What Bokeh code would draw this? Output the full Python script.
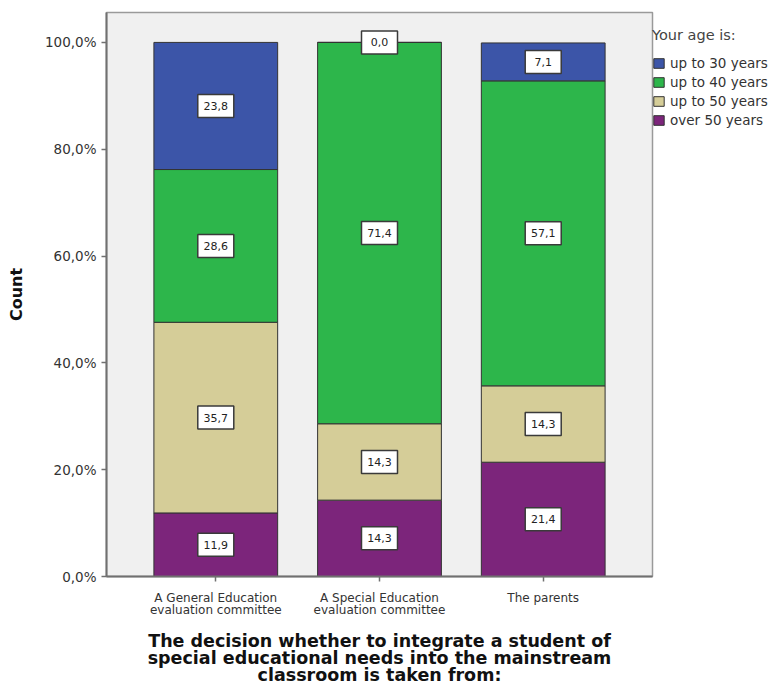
from bokeh.plotting import figure
from bokeh.models import FactorRange, FixedTicker, Legend, LegendItem, ColumnDataSource
from bokeh.core.properties import value
from bokeh.embed import file_html
from bokeh.resources import INLINE

categories = ["A General Education\nevaluation committee",
              "A Special Education\nevaluation committee",
              "The parents"]
series_names = ["over 50 years", "up to 50 years", "up to 40 years", "up to 30 years"]
over50 = [11.9, 14.3, 21.4]
upto50 = [35.7, 14.3, 14.3]
upto40 = [28.6, 71.4, 57.1]
upto30 = [23.8, 0.0, 7.1]
colors = ["#7c257b", "#d5cd98", "#2db64b", "#3c55a8"]
y_ticks = [0, 20, 40, 60, 80, 100]
y_tick_labels = ["0,0%", "20,0%", "40,0%", "60,0%", "80,0%", "100,0%"]

keys = ["s0", "s1", "s2", "s3"]
data = {"cat": categories, "s0": over50, "s1": upto50, "s2": upto40, "s3": upto30}
src = ColumnDataSource(data)

p = figure(frame_width=546, frame_height=564, output_backend="svg", toolbar_location=None,
           x_range=FactorRange(*categories, range_padding=0.1117, factor_padding=0.0),
           y_range=(0, 105.6),
           min_border_left=106, min_border_top=12, min_border_right=120, min_border_bottom=112)
p.background_fill_color = "#f0f0f0"
p.border_fill_color = "white"
p.outline_line_color = "#9a9a9a"
p.outline_line_width = 1.5
p.grid.visible = False

renderers = p.vbar_stack(keys, x="cat", width=0.756, source=src, fill_color=colors,
                         line_color="#333333", line_width=1)

# labels
lx, ly, lt = [], [], []
series = [over50, upto50, upto40, upto30]
for i, c in enumerate(categories):
    cum = 0.0
    for s in series:
        v = s[i]
        lx.append(c)
        ly.append(cum + v / 2.0)
        lt.append(("%.1f" % v).replace(".", ","))
        cum += v
lsrc = ColumnDataSource(dict(x=lx, y=ly, t=lt))
p.rect(x="x", y="y", width=36, height=23, width_units="screen", height_units="screen",
       source=lsrc, fill_color="white", line_color="#3a3a3a", line_width=1.5)
p.text(x="x", y="y", text="t", source=lsrc, text_align="center", text_baseline="middle",
       text_font=value("DejaVu Sans"), text_font_size="11px", text_color="#222222")

# axes
p.yaxis.ticker = FixedTicker(ticks=y_ticks)
p.yaxis.major_label_overrides = {t: l for t, l in zip(y_ticks, y_tick_labels)}
p.yaxis.minor_tick_line_color = None
for ax in (p.xaxis[0], p.yaxis[0]):
    ax.axis_line_color = "#707070"
    ax.axis_line_width = 2
    ax.major_tick_line_color = "#707070"
    ax.major_tick_line_width = 1.5
    ax.major_tick_out = 5
    ax.major_tick_in = 0
    ax.major_label_text_font = "DejaVu Sans"
    ax.major_label_text_color = "#333333"
    ax.axis_label_text_font_style = "bold"
    ax.axis_label_text_color = "#111111"

p.yaxis.major_label_text_font_size = "13.5px"
p.yaxis.major_label_standoff = 5
p.xaxis.major_label_text_font_size = "12px"
p.xaxis.major_label_standoff = 9
p.xaxis.major_label_text_line_height = 0.86

p.yaxis.axis_label = "Count"
p.yaxis.axis_label_text_font = "DejaVu Sans"
p.yaxis.axis_label_text_font_size = "16px"
p.yaxis.axis_label_standoff = 16

p.xaxis.axis_label = ("The decision whether to integrate a student of\n"
                      "special educational needs into the mainstream\n"
                      "classroom is taken from:")
p.xaxis.axis_label_text_font = "DejaVu Sans"
p.xaxis.axis_label_text_font_size = "17.5px"
p.xaxis.axis_label_text_line_height = 0.86
p.xaxis.axis_label_standoff = 11

items = [LegendItem(label=series_names[i], renderers=[renderers[i]]) for i in [3, 2, 1, 0]]
legend = Legend(items=items, title="Your age is:", location=(0, 448))
legend.title_text_font = "DejaVu Sans"
legend.title_text_font_size = "14.5px"
legend.title_text_font_style = "normal"
legend.title_text_color = "#444444"
legend.title_standoff = 12
legend.label_text_font = "DejaVu Sans"
legend.label_text_font_size = "13.5px"
legend.label_text_color = "#333333"
legend.glyph_width = 13
legend.glyph_height = 12
legend.label_height = 15
legend.spacing = 3
legend.label_standoff = 5
legend.padding = 3
legend.margin = 0
legend.background_fill_alpha = 0
legend.border_line_color = None
p.add_layout(legend, "right")

open("out.html", "w").write(file_html(p, INLINE))
